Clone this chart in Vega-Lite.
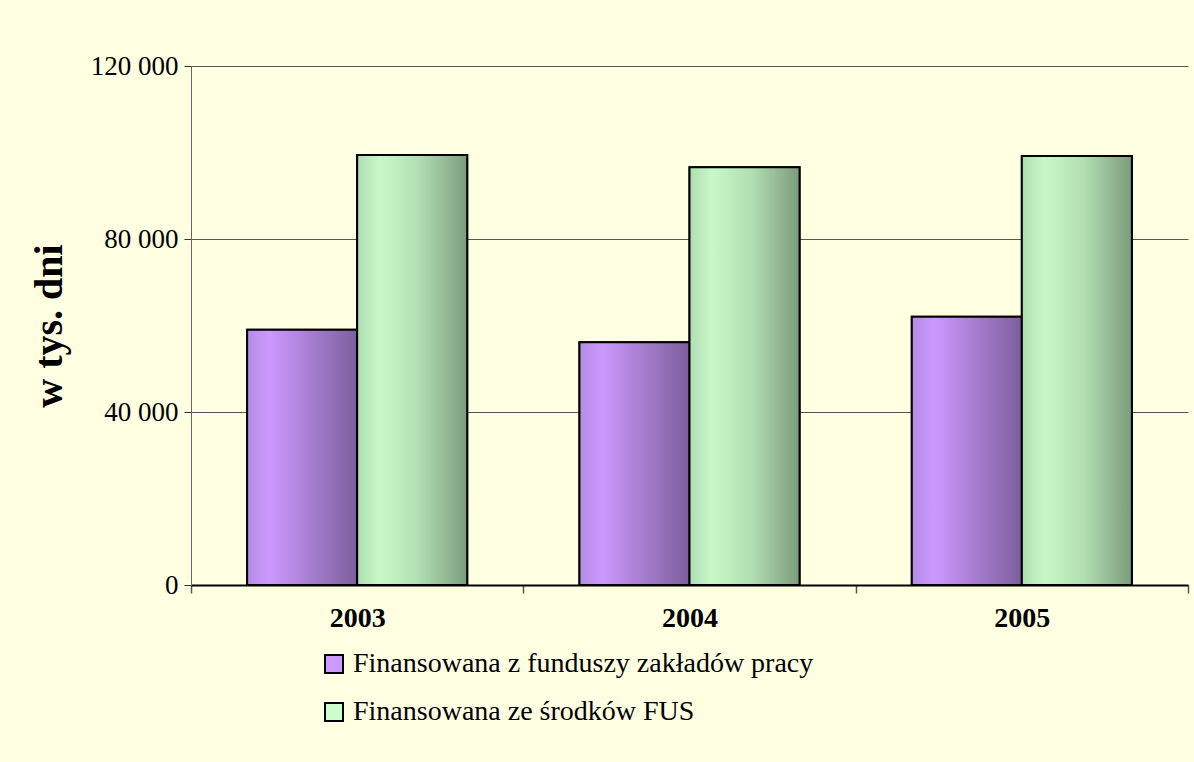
{
  "$schema": "https://vega.github.io/schema/vega-lite/v6.json",
  "width": 997,
  "height": 519,
  "autosize": "none",
  "padding": {"left": 191, "top": 66, "right": 6, "bottom": 177},
  "background": "#FFFFE2",
  "config": {
    "font": "Liberation Serif",
    "view": {"stroke": null},
    "axis": {"labelColor": "#000", "titleColor": "#000", "labelFont": "Liberation Serif", "titleFont": "Liberation Serif"},
    "legend": {"labelFont": "Liberation Serif"}
  },
  "data": {
    "values": [
      {"rok": "2003", "zrodlo": "Finansowana z funduszy zakładów pracy", "wartosc": 59000},
      {"rok": "2003", "zrodlo": "Finansowana ze środków FUS", "wartosc": 99400},
      {"rok": "2004", "zrodlo": "Finansowana z funduszy zakładów pracy", "wartosc": 56100},
      {"rok": "2004", "zrodlo": "Finansowana ze środków FUS", "wartosc": 96600},
      {"rok": "2005", "zrodlo": "Finansowana z funduszy zakładów pracy", "wartosc": 62000},
      {"rok": "2005", "zrodlo": "Finansowana ze środków FUS", "wartosc": 99200}
    ]
  },
  "encoding": {
    "x": {
      "field": "rok", "type": "nominal",
      "scale": {"paddingInner": 0, "paddingOuter": 0},
      "axis": {
        "title": null, "labelAngle": 0, "labelFontSize": 28, "labelFontWeight": "bold",
        "domainColor": "#000", "domainWidth": 2, "tickColor": "#555", "tickWidth": 1.5, "tickSize": 8, "tickBand": "extent",
        "labelPadding": 11
      }
    },
    "xOffset": {"field": "zrodlo", "type": "nominal", "scale": {"paddingInner": 0, "paddingOuter": 0.51}},
    "y": {
      "field": "wartosc", "type": "quantitative",
      "scale": {"domain": [0, 120000], "nice": false},
      "axis": {
        "title": "w tys. dni", "titleFontSize": 40, "titleFontWeight": "bold", "titlePadding": 21,
        "values": [0, 40000, 80000, 120000], "format": ",d",
        "labelExpr": "replace(datum.label, ',', ' ')",
        "labelFontSize": 27, "labelPadding": 6, "tickSize": 7, "tickColor": "#333",
        "domainColor": "#666", "gridColor": "#555", "gridWidth": 1.2
      }
    }
  },
  "layer": [
    {
      "mark": {"type": "bar", "stroke": "#000", "strokeWidth": 2},
      "encoding": {
        "color": {
          "field": "zrodlo", "type": "nominal",
          "scale": {"domain": ["Finansowana z funduszy zakładów pracy", "Finansowana ze środków FUS"], "range": ["#CC99FF", "#CCFFCC"]},
          "legend": {
            "title": null, "orient": "none", "legendX": 129, "legendY": 584, "direction": "vertical",
            "symbolType": "square", "symbolSize": 324, "symbolStrokeColor": "#000", "symbolStrokeWidth": 2,
            "labelFont": "Liberation Serif", "labelColor": "#000",
            "labelFontSize": 28, "labelOffset": 5, "labelLimit": 0, "rowPadding": 20, "symbolOpacity": 1
          }
        }
      }
    },
    {
      "mark": {"type": "bar", "stroke": "#000", "strokeWidth": 2},
      "encoding": {
        "fill": {
          "condition": {
            "test": "datum.zrodlo === 'Finansowana z funduszy zakładów pracy'",
            "value": {"gradient": "linear", "x1": 0, "x2": 1, "y1": 0, "y2": 0,
              "stops": [{"offset": 0, "color": "#B48BE4"}, {"offset": 0.2, "color": "#CC99FF"}, {"offset": 1, "color": "#7D5E9C"}]}
          },
          "value": {"gradient": "linear", "x1": 0, "x2": 1, "y1": 0, "y2": 0,
            "stops": [{"offset": 0, "color": "#AEDDB2"}, {"offset": 0.2, "color": "#C8F8C8"}, {"offset": 0.55, "color": "#B3E0B3"}, {"offset": 1, "color": "#7C9C7C"}]}
        }
      }
    }
  ]
}
